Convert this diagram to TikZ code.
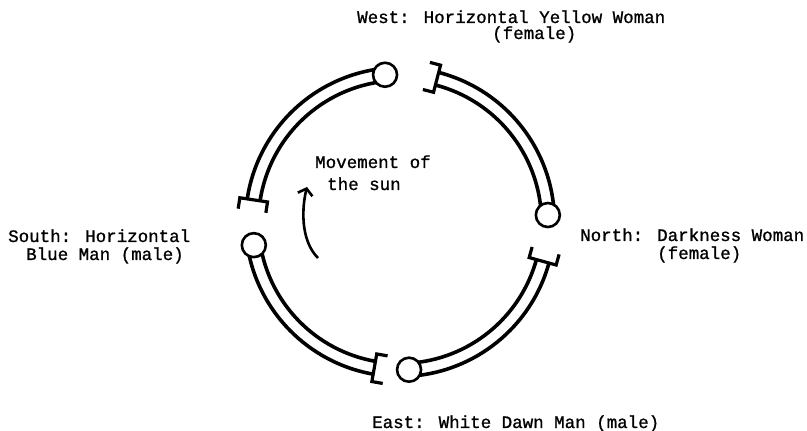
\documentclass[tikz,border=0pt]{standalone}
\usepackage{fontspec}
\newfontfamily\typew[FakeBold=1]{Liberation Mono}
\usetikzlibrary{arrows.meta}
\begin{document}
\begin{tikzpicture}[x=1pt,y=1pt,
  band/.style={line width=3.6pt},
  brk/.style={line width=3.2pt, line join=miter},
  sunnode/.style={circle, draw, line width=2.6pt, fill=white, minimum size=24pt, inner sep=0pt},
  lbl/.style={anchor=base west, inner sep=0pt, font=\typew\fontsize{17.5}{18}\selectfont},
  sunarrow/.style={line width=2.6pt, -{Straight Barb[length=6pt,width=15pt]}}
]
\useasboundingbox[fill=white] (0,0) rectangle (807,431);
\begin{scope}[shift={(400,209)}]
  \foreach \a/\b in {95.8/171.4, 189/260, 273.5/344.6, 2.7/75.5} {
    \draw[band] (\a:141.5) arc[start angle=\a, end angle=\b, radius=141.5];
    \draw[band] (\a:154.5) arc[start angle=\a, end angle=\b, radius=154.5];
    \draw[brk, rotate=\b] (134,11) -- (134,0) -- (162,0) -- (162,11);
  }
  \node[sunnode] (w) at (95.8:148) {};
  \node[sunnode] (s) at (189:148) {};
  \node[sunnode] (e) at (273.5:148) {};
  \node[sunnode] (n) at (2.7:148) {};
\end{scope}
\coordinate (arrS) at (318,173);
\coordinate (arrE) at (307,244);
\draw[sunarrow] (arrS) .. controls (300,191) and (302,224) .. (arrE);
\node[lbl] (westl) at (357,408) {West: Horizontal Yellow Woman};
\node[lbl] (westf) at (492,392) {(female)};
\node[lbl] (northl) at (580,190) {North: Darkness Woman};
\node[lbl] (northf) at (657,172) {(female)};
\node[lbl] (southl) at (8,189) {South: Horizontal};
\node[lbl] (southm) at (26,171) {Blue Man (male)};
\node[lbl] (eastl) at (372,3) {East: White Dawn Man (male)};
\node[lbl] (mov1) at (315,263) {Movement of};
\node[lbl] (mov2) at (327,241) {the sun};
\end{tikzpicture}
\end{document}
